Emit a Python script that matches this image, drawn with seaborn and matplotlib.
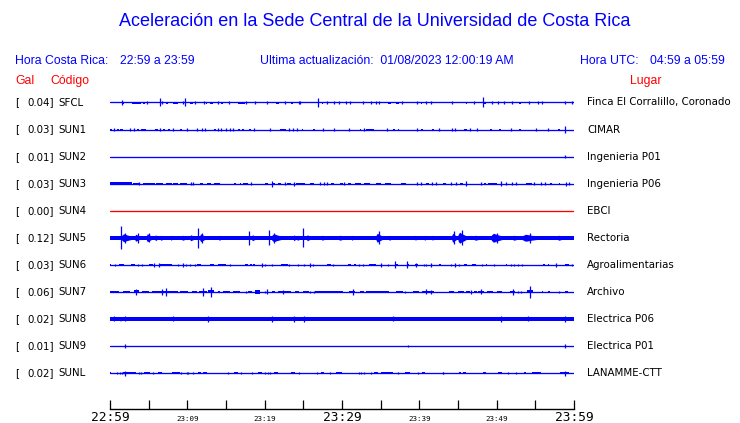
import matplotlib
matplotlib.use("Agg")
import matplotlib.pyplot as plt
import pandas as pd
import seaborn as sns

# ---------------- data ----------------
stations = ["SFCL", "SUN1", "SUN2", "SUN3", "SUN4", "SUN5", "SUN6", "SUN7", "SUN8", "SUN9", "SUNL"]
gal = [0.04, 0.03, 0.01, 0.03, 0.00, 0.12, 0.03, 0.06, 0.02, 0.01, 0.02]
places = ["Finca El Corralillo, Coronado", "CIMAR", "Ingenieria P01", "Ingenieria P06", "EBCI",
          "Rectoria", "Agroalimentarias", "Archivo", "Electrica P06", "Electrica P01", "LANAMME-CTT"]
trace_colors = ["#0000ff", "#0000ff", "#0000ff", "#0000ff", "#ff0000", "#0000ff",
                "#0000ff", "#0000ff", "#0000ff", "#0000ff", "#0000ff"]

# minutes after 22:59 ; ticks every 5 min, labels every 10 min
tick_minutes = list(range(0, 61, 5))
tick_labels = ["22:59", "", "23:09", "", "23:19", "", "23:29", "", "23:39", "", "23:49", "", "23:59"]
major_labels = ["22:59", "23:29", "23:59"]

# spikes: (minute, half-amplitude) ; bursts: (start minute, end minute, half-amplitude)
sfcl_spikes = [(1.6, 2.5), (4.8, 1.3), (6.45, 4), (6.75, 1.3), (9.42, 1.5), (9.72, 4), (10.97, 1.3), (12.1, 1.3),
               (14.0, 1.3), (15.4, 1.3), (17.6, 1.3), (18.8, 1.3), (20.3, 1.3), (22.6, 1.3), (24.4, 1.3), (24.6, 1.3),
               (26.9, 4.5), (28.0, 1.3), (29.0, 1.3), (29.6, 1.3), (30.5, 1.3), (31.0, 1.3), (32.7, 1.5), (33.8, 1.3),
               (34.4, 1.3), (34.8, 1.3), (37.8, 1.3), (39.7, 1.3), (40.8, 1.3), (41.5, 1.3), (44.2, 1.3), (47.1, 1.3),
               (48.2, 5), (49.4, 1.3), (50.2, 1.3), (51.0, 1.3), (52.0, 1.3), (54.2, 1.3), (55.4, 1.3), (55.8, 1.3),
               (58.9, 1.3), (59.8, 1.3)]
sfcl_bursts = [(1.5, 1.8, 1), (2.8, 3.96, 1), (4.3, 4.5, 1), (7.3, 7.5, 1), (8.17, 8.73, 1), (10.4, 10.67, 1),
               (12.4, 12.6, 1), (12.95, 13.3, 1), (14.3, 14.6, 1), (16.5, 17.4, 1), (21.5, 21.9, 1), (23.4, 23.7, 1),
               (27.4, 27.6, 1), (36.0, 36.3, 1), (37.0, 37.4, 1), (40.2, 40.4, 1), (46.0, 46.2, 1), (48.4, 48.6, 1),
               (52.9, 53.2, 1)]

sun1_spikes = [(0.56, 1.3), (2.58, 1.3), (3.14, 1.3), (6.45, 1.3), (8.2, 1.3), (10.0, 1.3), (11.2, 1.3), (11.9, 1.3),
               (12.3, 1.3), (14.0, 1.3), (14.4, 1.3), (15.0, 1.3), (15.5, 1.3), (15.9, 1.3), (18.6, 1.3), (20.7, 1.3),
               (23.2, 1.3), (23.7, 1.3), (24.2, 1.3), (27.5, 1.3), (29.0, 1.3), (30.9, 1.3), (32.9, 1.3), (35.8, 1.3),
               (39.7, 1.3), (42.5, 1.3), (44.2, 1.3), (44.6, 1.3), (46.5, 1.3), (47.5, 1.3), (51.8, 1.3), (55.1, 1.3),
               (56.6, 1.3), (58.9, 3.5)]
sun1_bursts = [(0, 0.3, 1), (0.86, 1.16, 1), (1.3, 1.7, 1), (3.5, 3.8, 1), (4.0, 4.6, 1), (5.8, 6.15, 1), (6.9, 7.1, 1),
               (7.5, 7.7, 1), (9.1, 9.25, 1), (13.5, 13.7, 1), (16.6, 16.8, 1), (17.1, 17.3, 1), (18.0, 18.2, 1),
               (22.0, 22.7, 1), (24.8, 25.0, 1), (26.2, 26.5, 1), (32.3, 32.5, 1), (33.1, 34.2, 1), (36.6, 36.8, 1),
               (37.2, 37.4, 1), (40.2, 40.5, 1), (41.6, 41.9, 1), (45.8, 46.2, 1), (49.2, 49.4, 1), (50.3, 50.5, 1),
               (52.9, 53.2, 1), (57.9, 58.2, 1)]

sun2_spikes = [(58.9, 1.5)]
sun2_bursts = []

sun3_spikes = [(3.75, 1.8), (10.5, 1.3), (10.75, 1.3), (18.2, 1.3), (20.9, 3), (22.6, 1.3), (23.8, 2), (27.1, 1.3),
               (27.7, 1.3), (28.0, 1.3), (30.3, 1.3), (39.7, 1.3), (40.2, 1.3), (41.7, 1.3), (42.2, 1.3), (44.1, 1.3),
               (44.7, 1.3), (46.0, 2.5), (47.96, 1.3), (50.6, 2.5), (51.2, 1.3), (52.0, 1.3), (52.5, 1.3), (54.8, 1.3),
               (55.7, 1.3), (56.3, 1.3), (59.0, 2), (59.35, 1.3)]
sun3_bursts = [(0, 2.8, 1.2), (3.0, 3.9, 1), (4.3, 5.8, 1), (6.0, 6.9, 1), (7.3, 8.0, 1), (8.2, 8.8, 1), (9.0, 9.9, 1),
               (11.6, 12.0, 1), (12.5, 13.1, 1), (13.5, 14.2, 1), (16.0, 16.3, 1), (16.8, 17.0, 1), (17.2, 17.8, 1),
               (20.0, 20.4, 1), (21.1, 21.3, 1), (21.7, 22.1, 1), (22.9, 23.4, 1), (24.1, 25.2, 1), (25.8, 26.4, 1),
               (28.6, 29.0, 1), (29.7, 30.1, 1), (30.8, 31.2, 1), (31.7, 32.5, 1), (32.9, 33.6, 1), (34.4, 35.0, 1),
               (35.5, 36.3, 1), (37.6, 38.3, 1), (40.9, 41.2, 1), (43.0, 43.4, 1), (45.3, 45.6, 1), (48.3, 48.6, 1),
               (48.9, 50.0, 1), (53.8, 54.6, 1), (56.9, 57.2, 1), (58.0, 58.2, 1)]

sun4_spikes = []
sun4_bursts = []

sun5_spikes = [(1.4, 11.5), (1.9, 5), (3.6, 5), (5.0, 4.5), (11.4, 10), (11.9, 5), (18.0, 7), (20.6, 7.5), (21.2, 5),
               (25.0, 9.5), (34.8, 6.3), (44.5, 6.3), (45.5, 7.5), (50.0, 5), (54.3, 5)]
sun5_bursts = [(0, 60, 2.0), (1.5, 2.8, 4), (3.2, 3.9, 3.5), (4.7, 5.4, 4), (5.8, 6.2, 3), (6.45, 7.1, 2.5),
               (7.8, 8.2, 2.5), (9.2, 10.1, 2.5), (10.3, 11.0, 3), (11.6, 12.3, 4), (14.0, 14.6, 2.5), (18.3, 18.9, 3),
               (20.9, 22.2, 4), (23.7, 24.1, 3), (24.1, 24.8, 2.5), (25.4, 26.0, 3), (27.3, 28.0, 2.5),
               (29.5, 30.5, 2.5), (31.2, 31.6, 2.5), (34.4, 35.2, 4.5), (36.0, 36.6, 2.5), (39.4, 39.8, 2.5),
               (40.6, 41.0, 2.5), (41.6, 42.0, 2.5), (44.2, 44.8, 4.5), (45.0, 46.0, 5.5), (47.0, 48.2, 2.5),
               (49.3, 50.7, 4.5), (52.0, 53.1, 2.5), (53.3, 55.5, 3.5), (57.8, 58.9, 2.5)]

sun6_spikes = [(0.65, 1.3), (3.65, 1.3), (4.2, 1.3), (5.7, 2), (6.3, 2), (8.8, 1.3), (9.5, 2), (9.8, 1.3), (10.3, 1.3),
               (11.0, 1.3), (15.5, 1.3), (19.7, 2), (20.1, 1.3), (20.9, 1.3), (23.2, 1.3), (24.3, 1.3), (25.1, 1.3),
               (25.8, 2), (26.2, 1.3), (28.8, 1.3), (32.2, 1.3), (32.7, 1.3), (35.0, 2), (36.0, 1.3), (36.8, 3.5),
               (38.4, 3.5), (39.6, 2), (40.6, 1.3), (40.9, 1.3), (41.5, 2), (44.1, 1.3), (44.6, 2), (45.1, 1.3),
               (48.1, 1.3), (49.6, 1.3), (51.8, 1.3), (52.2, 1.3), (52.7, 1.3), (53.3, 1.3), (57.7, 2), (59.8, 1.3)]
sun6_bursts = [(0, 0.1, 1), (1.16, 1.85, 1), (2.7, 3.2, 1), (5.0, 5.5, 1), (6.45, 8.0, 1), (11.2, 11.8, 1),
               (12.9, 13.5, 1), (14.0, 15.05, 1), (17.4, 17.8, 1), (18.1, 18.3, 1), (18.5, 18.8, 1), (22.1, 23.0, 1),
               (28.0, 28.6, 1), (30.8, 31.1, 1), (31.6, 31.8, 1), (33.5, 34.4, 1), (37.0, 37.3, 1), (38.5, 38.7, 1),
               (39.5, 39.8, 1), (42.5, 42.8, 1), (45.8, 46.2, 1), (46.8, 47.3, 1), (48.6, 48.8, 1), (51.2, 51.4, 1),
               (56.0, 56.3, 1), (56.6, 56.8, 1), (58.9, 59.4, 1)]

sun7_spikes = [(3.4, 3), (6.75, 3), (7.3, 4), (12.0, 4), (13.0, 5), (17.6, 1.3), (20.0, 1.3), (20.3, 2.5), (22.4, 2),
               (25.9, 1.3), (26.4, 1.3), (31.4, 3), (38.1, 1.3), (40.9, 2.5), (41.5, 2), (46.7, 2), (48.0, 2.5),
               (52.1, 3), (52.7, 1.3), (53.1, 1.3), (54.3, 6), (58.0, 1.3)]
sun7_bursts = [(0, 1.1, 1.2), (1.7, 2.6, 1.2), (3.1, 3.7, 1.5), (4.1, 5.0, 1.2), (5.4, 6.7, 1.2), (6.9, 8.8, 1.3),
               (9.0, 10.1, 1.2), (10.6, 11.2, 1.2), (11.5, 12.5, 1.3), (12.7, 13.5, 1.5), (14.0, 14.2, 1),
               (14.6, 15.5, 1.2), (15.9, 16.8, 1.2), (17.9, 18.3, 1), (18.7, 19.4, 2), (20.9, 21.3, 1),
               (21.7, 23.4, 1.3), (23.9, 24.5, 1.2), (24.9, 25.7, 1.2), (26.5, 30.1, 1.2), (30.9, 31.7, 1.3),
               (32.3, 32.9, 1), (33.1, 36.1, 1.2), (37.0, 37.9, 1.2), (39.2, 40.0, 1.2), (40.4, 41.9, 1.3),
               (43.9, 44.5, 1.2), (45.0, 45.8, 1.2), (46.0, 46.5, 1.2), (47.1, 47.4, 1), (47.6, 48.3, 1.3),
               (48.8, 49.5, 1.2), (50.1, 50.7, 1.2), (51.7, 52.4, 1.3), (53.9, 54.7, 1.5), (55.8, 56.0, 1),
               (56.6, 56.9, 1), (58.8, 59.2, 1.2)]

sun8_spikes = [(0.56, 2.5), (1.9, 2.5), (8.2, 2.5), (12.7, 3), (20.9, 3), (23.8, 3), (25.1, 3), (36.6, 2.5),
               (50.6, 3), (54.1, 2.5), (58.9, 3)]
sun8_bursts = [(0, 60, 1.7), (0, 2.2, 2.2), (1.3, 1.5, 2.6)]

sun9_spikes = [(1.9, 2), (38.5, 1), (58.9, 2)]
sun9_bursts = []

sunl_spikes = [(0.86, 1.3), (1.3, 1.3), (1.5, 1.3), (2.0, 2.5), (3.8, 1.3), (4.0, 1.3), (5.6, 1.3), (9.2, 1.3),
               (9.9, 1.3), (10.1, 1.3), (10.75, 1.3), (15.3, 1.3), (17.0, 1.3), (18.4, 1.3), (20.1, 1.3), (20.4, 1.3),
               (20.7, 1.3), (24.4, 1.3), (26.75, 1.3), (28.4, 1.3), (32.2, 1.3), (32.5, 1.3), (32.9, 1.3), (33.8, 1.3),
               (37.2, 1.3), (39.8, 1.3), (43.0, 1.3), (43.1, 1.3), (51.5, 1.3), (52.5, 1.3), (58.8, 2.5)]
sunl_bursts = [(0, 0.1, 1), (1.7, 3.4, 1), (4.4, 5.2, 1), (6.2, 6.7, 1), (8.0, 9.0, 1), (11.4, 11.8, 1), (12.0, 12.5, 1),
               (16.0, 16.6, 1), (19.2, 19.6, 1), (21.2, 21.7, 1), (23.4, 23.9, 1), (27.3, 27.7, 1), (29.2, 30.0, 1),
               (34.2, 34.7, 1), (35.1, 36.6, 1), (38.2, 38.8, 1), (40.4, 40.7, 1), (45.1, 45.4, 1), (45.6, 46.0, 1),
               (48.2, 48.6, 1), (50.2, 50.7, 1), (53.5, 53.8, 1), (54.6, 55.7, 1), (58.2, 59.4, 1)]

all_spikes = [sfcl_spikes, sun1_spikes, sun2_spikes, sun3_spikes, sun4_spikes, sun5_spikes,
              sun6_spikes, sun7_spikes, sun8_spikes, sun9_spikes, sunl_spikes]
all_bursts = [sfcl_bursts, sun1_bursts, sun2_bursts, sun3_bursts, sun4_bursts, sun5_bursts,
              sun6_bursts, sun7_bursts, sun8_bursts, sun9_bursts, sunl_bursts]

# ---------------- figure ----------------
sns.set_theme(style="white")
plt.rcParams["font.family"] = ["DejaVu Sans"]

W, H = 740, 423
fig = plt.figure(figsize=(W / 100, H / 100), dpi=100)
fig.patch.set_facecolor("white")

AX_TOP, AX_BOTTOM, AX_LEFT, AX_RIGHT = 88, 409, 110, 574
ax = fig.add_axes([AX_LEFT / W, 1 - AX_BOTTOM / H, (AX_RIGHT - AX_LEFT) / W, (AX_BOTTOM - AX_TOP) / H])
ax.set_facecolor("white")

first_y, step_y = 102.5, 27.05
offsets = [first_y + step_y * i for i in range(len(stations))]

# baselines through seaborn
base_rows = []
for st, off in zip(stations, offsets):
    base_rows.append({"station": st, "minute": 0, "y": off})
    base_rows.append({"station": st, "minute": 60, "y": off})
base_df = pd.DataFrame(base_rows)
sns.lineplot(data=base_df, x="minute", y="y", hue="station", palette=dict(zip(stations, trace_colors)),
             estimator=None, legend=False, linewidth=0.95, ax=ax)

for off, col, spikes, bursts in zip(offsets, trace_colors, all_spikes, all_bursts):
    for t0, t1, a in bursts:
        if a >= 2.5 and (t1 - t0) < 5:
            # seismic-like envelope: quick onset, decaying coda
            xs = [t0, t0 + 0.2 * (t1 - t0), t0 + 0.55 * (t1 - t0), t1]
            amp = [0.55 * a, a, 0.7 * a, 0.4 * a]
        else:
            xs = [t0, t1]
            amp = [a, a]
        ax.fill_between(xs, [off - v for v in amp], [off + v for v in amp], color=col, linewidth=0)
    if spikes:
        ts = [s[0] for s in spikes]
        amps = [s[1] for s in spikes]
        ax.vlines(ts, [off - a for a in amps], [off + a for a in amps], color=col, linewidth=0.9)

ax.set_xlim(0, 60)
ax.set_ylim(AX_BOTTOM, AX_TOP)
ax.set_yticks([])
ax.set_xlabel("")
ax.set_ylabel("")
for s in ["top", "left", "right"]:
    ax.spines[s].set_visible(False)
ax.spines["bottom"].set_color("black")
ax.spines["bottom"].set_linewidth(1.0)

ax.set_xticks(tick_minutes)
ax.set_xticklabels(tick_labels)
ax.tick_params(axis="x", direction="in", length=6.5, width=0.9, color="black", pad=8.4, bottom=True)
for lab in ax.get_xticklabels():
    lab.set_family("DejaVu Sans Mono")
    lab.set_color("black")
    lab.set_verticalalignment("baseline")
    lab.set_fontsize(9.3 if lab.get_text() in major_labels else 5.4)


def P(x, y):
    return x / W, 1 - y / H


blue = "#0000ff"
red = "#ff0000"
hdr = "Liberation Sans"

fig.text(*P(375, 22), "Aceleración en la Sede Central de la Universidad de Costa Rica", color=blue,
         fontsize=13, family=hdr, ha="center", va="center")
fig.text(*P(15, 61), "Hora Costa Rica:", color=blue, fontsize=8.8, family=hdr, va="center")
fig.text(*P(120, 61), "22:59 a 23:59", color=blue, fontsize=8.8, family=hdr, va="center")
fig.text(*P(260, 61), "Ultima actualización:  01/08/2023 12:00:19 AM", color=blue, fontsize=8.8, family=hdr,
         va="center")
fig.text(*P(580.5, 61), "Hora UTC:", color=blue, fontsize=8.8, family=hdr, va="center")
fig.text(*P(650, 61), "04:59 a 05:59", color=blue, fontsize=8.8, family=hdr, va="center")
fig.text(*P(15, 81), "Gal", color=red, fontsize=8.8, family=hdr, va="center")
fig.text(*P(50, 81), "Código", color=red, fontsize=8.8, family=hdr, va="center")
fig.text(*P(630, 81), "Lugar", color=red, fontsize=8.8, family=hdr, va="center")

for st, g, pl, off in zip(stations, gal, places, offsets):
    fig.text(*P(15, off), "[", color="black", fontsize=7.4, va="center")
    fig.text(*P(54, off), f"{g:.2f}]", color="black", fontsize=7.4, va="center", ha="right")
    fig.text(*P(58.5, off), st, color="black", fontsize=7.4, va="center")
    fig.text(*P(587, off), pl, color="black", fontsize=7.4, va="center")

fig.savefig("out.png", dpi=100, facecolor="white")
